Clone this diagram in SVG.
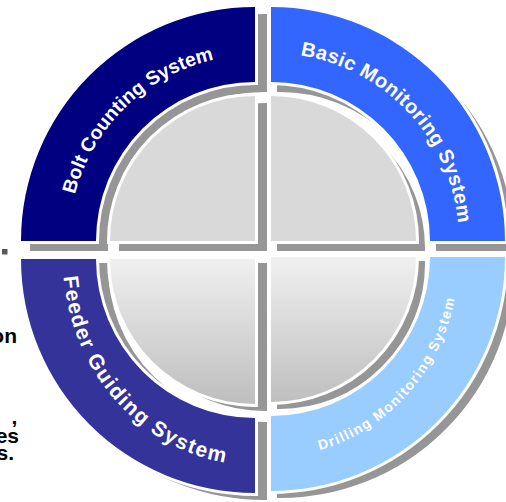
<svg xmlns="http://www.w3.org/2000/svg" width="506" height="502" viewBox="0 0 506 502">
<defs>
<style>
.sh{fill:#969696;stroke:#969696;stroke-width:6;stroke-linejoin:miter}
.pc{stroke:#ffffff;stroke-width:6;paint-order:stroke;stroke-linejoin:miter}
.lbl{font-family:"Liberation Sans",Arial,sans-serif;font-weight:bold;fill:#ffffff}
.side{font-family:"Liberation Sans",Arial,sans-serif;font-weight:bold;font-size:21px;fill:#000000;text-anchor:end}
</style>
<linearGradient id="gb" gradientUnits="userSpaceOnUse" x1="0" y1="258" x2="0" y2="404">
<stop offset="0" stop-color="#F0F0F0"/>
<stop offset="1" stop-color="#BEBEBE"/>
</linearGradient>
<path id="tpTL" d="M 69 241 A 186 186 0 0 1 255 55"/>
<path id="tpTR" d="M 271 53 A 188 188 0 0 1 459 241"/>
<path id="tpBL" d="M 63 259 A 192 206 0 0 0 255 465"/>
<path id="tpBR" d="M 271 457 A 188 200 0 0 0 459 257"/>
</defs>
<rect width="506" height="502" fill="#ffffff"/>

<g id="shadows">
<g transform="translate(9,7)">
<path class="sh" d="M 24 241 A 231 231 0 0 1 255 10 L 255 82 A 159 159 0 0 0 96 241 Z"/>
<path class="sh" d="M 255 241 L 113 241 A 142 142 0 0 1 255 99 Z"/>
<path class="sh" d="M 271 10 A 231 231 0 0 1 502 241 L 430 241 A 159 159 0 0 0 271 82 Z"/>
<path class="sh" d="M 271 241 L 271 99 A 142 142 0 0 1 413 241 Z"/>
<path class="sh" d="M 24 259 L 96 259 A 159 159 0 0 0 255 418 L 255 490 A 231 231 0 0 1 24 259 Z"/>
<path class="sh" d="M 255 259 L 113 259 A 142 142 0 0 0 255 401 Z"/>
<path class="sh" d="M 271 416 A 159 159 0 0 0 430 257 L 502 257 A 231 231 0 0 1 271 488 Z"/>
<path class="sh" d="M 271 257 L 413 257 A 142 142 0 0 1 271 399 Z"/>
</g>
</g>

<g id="bolt-counting">
<path class="pc" fill="#000080" d="M 21 241 A 234 234 0 0 1 255 7 L 255 82 A 159 159 0 0 0 96 241 Z"/>
<path class="pc" fill="#D9D9D9" d="M 255 241 L 110 241 A 145 145 0 0 1 255 96 Z"/>
<text class="lbl" font-size="19.5" text-anchor="middle"><textPath href="#tpTL" startOffset="51%">Bolt Counting System</textPath></text>
</g>

<g id="basic-monitoring">
<path class="pc" fill="#3366FF" d="M 271 7 A 234 234 0 0 1 505 241 L 430 241 A 159 159 0 0 0 271 82 Z"/>
<path class="pc" fill="#D9D9D9" d="M 271 241 L 271 96 A 145 145 0 0 1 416 241 Z"/>
<text class="lbl" font-size="20" letter-spacing="0.4" text-anchor="middle"><textPath href="#tpTR" startOffset="52%">Basic Monitoring System</textPath></text>
</g>

<g id="feeder-guiding">
<path class="pc" fill="#333399" d="M 21 259 L 96 259 A 159 159 0 0 0 255 418 L 255 493 A 234 234 0 0 1 21 259 Z"/>
<path class="pc" fill="url(#gb)" d="M 255 259 L 110 259 A 145 145 0 0 0 255 404 Z"/>
<text class="lbl" font-size="21" letter-spacing="1.5" text-anchor="middle"><textPath href="#tpBL" startOffset="48.2%">Feeder Guiding System</textPath></text>
</g>

<g id="drilling-monitoring">
<path class="pc" fill="#99CCFF" d="M 271 416 A 159 159 0 0 0 430 257 L 505 257 A 234 234 0 0 1 271 491 Z"/>
<path class="pc" fill="url(#gb)" d="M 271 257 L 416 257 A 145 145 0 0 1 271 402 Z"/>
<text class="lbl" font-size="14" letter-spacing="1.4" text-anchor="middle"><textPath href="#tpBR" startOffset="51.4%">Drilling Monitoring System</textPath></text>
</g>

<g id="side-fragments">
<rect x="2" y="249" width="5.5" height="5.5" fill="#595959"/>
<text class="side" x="17" y="343">on</text>
<text class="side" x="17.3" y="424">,</text>
<text class="side" x="19" y="442.5">es</text>
<text class="side" x="14" y="460">s.</text>
</g>
</svg>
